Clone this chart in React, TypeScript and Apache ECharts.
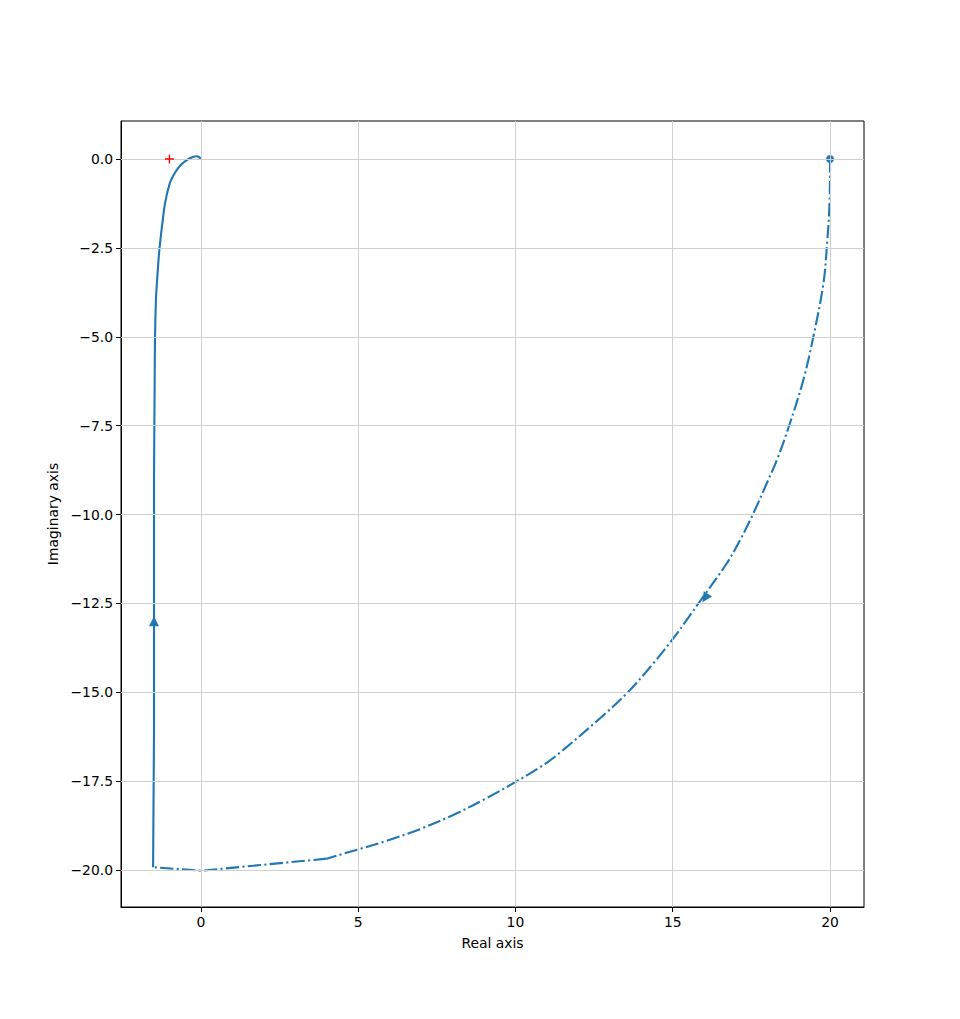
import React, { useEffect, useRef } from "react";
import * as echarts from "echarts";

// Primary Nyquist curve (solid), in direction of increasing frequency
const solidStraightX = [-1.52, -1.49, -1.49, -1.49, -1.48];
const solidStraightY = [-19.92, -16.0, -13.0, -9.0, -7.5];
const solidCurveX = [-1.48, -1.47, -1.46, -1.43, -1.40, -1.37, -1.33, -1.28, -1.21, -1.14, -0.99, -0.88, -0.77, -0.62, -0.45, -0.28, -0.14, -0.06, 0.0];
const solidCurveY = [-7.5, -6.3, -5.09, -3.97, -3.5, -3.12, -2.65, -2.22, -1.7, -1.24, -0.68, -0.47, -0.31, -0.15, -0.03, 0.05, 0.08, 0.06, -0.01];

// Mirror curve (dash-dot): curved part and the flat tail near Im = -20
const mirrorCurveX = [20.0, 20.0, 19.98, 19.91, 19.79, 19.47, 19.15, 18.67, 18.31, 17.99, 17.56, 17.14, 16.72, 15.97, 15.44, 15.02, 14.38, 13.54, 12.69, 11.2, 10.67, 10.01, 9.08, 8.02, 6.96, 5.9, 5.0, 4.42, 4.0];
const mirrorCurveY = [0.0, -0.11, -1.34, -2.33, -3.5, -5.0, -6.22, -7.58, -8.47, -9.12, -9.97, -10.72, -11.37, -12.31, -12.97, -13.48, -14.19, -15.03, -15.73, -16.85, -17.17, -17.52, -17.98, -18.45, -18.85, -19.18, -19.42, -19.57, -19.68];
const mirrorTailX = [4.0, 0.02, -1.52];
const mirrorTailY = [-19.68, -20.02, -19.92];

// Direction arrows
const arrowX = [-1.49, 16.03];
const arrowY = [-13.0, -12.35];
const arrowAngle = [0, 147];

// Critical point and start marker
const criticalPoint = [-1, 0];
const startPoint = [20, 0];

const xTicks = [0, 5, 10, 15, 20];
const yTicks = [0, -2.5, -5, -7.5, -10, -12.5, -15, -17.5, -20];

const BLUE = "#1f77b4";
const FONT = "DejaVu Sans";
const DASHDOT = [13.3, 3.3, 2.1, 3.3];

const zip = (xs: number[], ys: number[]) => xs.map((x, i) => [x, ys[i]]);

export default function App() {
  const ref = useRef<HTMLDivElement>(null);
  useEffect(() => {
    document.body.style.margin = "0";
    const chart = echarts.init(ref.current!, null, { renderer: "svg" });
    const fmtY = (v: number) => {
      const s = Math.abs(v) < 1e-9 ? "0.0" : v.toFixed(1);
      return s.replace("-", "\u2212");
    };
    const fmtX = (v: number) => String(v).replace("-", "\u2212");
    const gridLineStyle = { color: "#d0d0d0", width: 1, type: "solid" as const };
    const lineBase = { type: "line" as const, z: 3, showSymbol: false, symbol: "none", silent: true };
    chart.setOption({
      animation: false,
      grid: {
        left: 121,
        top: 121,
        width: 743,
        height: 786,
        show: true,
        borderColor: "#000",
        borderWidth: 1,
        backgroundColor: "#fff",
      },
      xAxis: {
        type: "value",
        min: -2.54,
        max: 21.08,
        splitLine: { show: false },
        axisLine: { show: true, onZero: false, lineStyle: { color: "#000", width: 1 } },
        axisTick: { show: true, inside: false, length: 5, lineStyle: { color: "#000" }, customValues: xTicks },
        axisLabel: { customValues: xTicks, formatter: fmtX, color: "#000", fontSize: 13.9, fontFamily: FONT, margin: 8 },
        name: "Real axis",
        nameLocation: "middle",
        nameGap: 29,
        nameTextStyle: { color: "#000", fontSize: 13.9, fontFamily: FONT },
      },
      yAxis: {
        type: "value",
        min: -21.04,
        max: 1.07,
        splitLine: { show: false },
        axisLine: { show: true, onZero: false, lineStyle: { color: "#000", width: 1 } },
        axisTick: { show: true, inside: false, length: 5, lineStyle: { color: "#000" }, customValues: yTicks },
        axisLabel: { customValues: yTicks, formatter: fmtY, color: "#000", fontSize: 13.9, fontFamily: FONT, margin: 8 },
        name: "Imaginary axis",
        nameLocation: "middle",
        nameGap: 60,
        nameRotate: 90,
        nameTextStyle: { color: "#000", fontSize: 13.9, fontFamily: FONT },
      },
      series: [
        {
          type: "line",
          data: [],
          z: 1,
          silent: true,
          markLine: {
            silent: true,
            symbol: "none",
            label: { show: false },
            lineStyle: gridLineStyle,
            data: [
              ...xTicks.map((v) => ({ xAxis: v })),
              ...yTicks.map((v) => ({ yAxis: v })),
            ],
          },
        },
        { ...lineBase, data: zip(solidStraightX, solidStraightY), lineStyle: { color: BLUE, width: 2.1 } },
        { ...lineBase, data: zip(solidCurveX, solidCurveY), smooth: 0.3, lineStyle: { color: BLUE, width: 2.1 } },
        { ...lineBase, data: zip(mirrorCurveX, mirrorCurveY), smooth: 0.35, lineStyle: { color: BLUE, width: 2.1, type: DASHDOT } },
        { ...lineBase, data: zip(mirrorTailX, mirrorTailY), lineStyle: { color: BLUE, width: 2.1, type: DASHDOT } },
        {
          type: "scatter",
          z: 4,
          silent: true,
          symbol: "triangle",
          symbolSize: [10, 10],
          itemStyle: { color: BLUE, opacity: 1 },
          data: arrowX.map((x, i) => ({ value: [x, arrowY[i]], symbolRotate: arrowAngle[i] })),
        },
        {
          type: "scatter",
          z: 4,
          silent: true,
          symbol: "circle",
          symbolSize: 8,
          itemStyle: { color: BLUE, opacity: 1 },
          data: [startPoint],
        },
        {
          type: "scatter",
          z: 5,
          silent: true,
          symbol: "path://M-1,-0.15H1V0.15H-1Z M-0.15,-1H0.15V1H-0.15Z",
          symbolSize: 9,
          itemStyle: { color: "#ff0000", opacity: 1 },
          data: [criticalPoint],
        },
      ],
    });
    return () => chart.dispose();
  }, []);
  return <div ref={ref} style={{ width: 960, height: 1019 }} />;
}
